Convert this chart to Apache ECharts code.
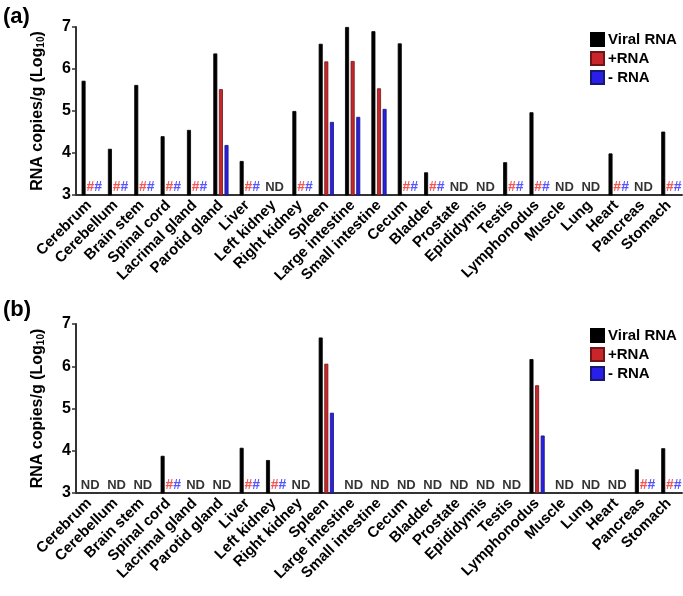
<!DOCTYPE html>
<html>
<head>
<meta charset="utf-8">
<script src="https://cdn.jsdelivr.net/npm/echarts@6/dist/echarts.min.js"></script>
<style>
  html, body { margin: 0; padding: 0; background: #fff; }
  #chart { width: 683px; height: 596px; }
</style>
</head>
<body>
<div id="chart"></div>
<script>
// tissues on the x axis (same for both panels)
const tissues = ["Cerebrum", "Cerebellum", "Brain stem", "Spinal cord", "Lacrimal gland", "Parotid gland",
  "Liver", "Left kidney", "Right kidney", "Spleen", "Large intestine", "Small intestine", "Cecum",
  "Bladder", "Prostate", "Epididymis", "Testis", "Lymphonodus", "Muscle", "Lung", "Heart", "Pancreas", "Stomach"];
const seriesNames = ["Viral RNA", "+RNA", "- RNA"];
const yTicks = [3, 4, 5, 6, 7];

// panel (a)
const viralA = [5.72, 4.1, 5.62, 4.4, 4.55, 6.37, 3.81, null, 5.0, 6.6, 7.0, 6.9, 6.61,
  3.54, null, null, 3.78, 4.97, null, null, 3.99, null, 4.51];
const plusA = [null, null, null, null, null, 5.52, null, null, null, 6.18, 6.19, 5.54, null,
  null, null, null, null, null, null, null, null, null, null];
const minusA = [null, null, null, null, null, 4.19, null, null, null, 4.74, 4.86, 5.05, null,
  null, null, null, null, null, null, null, null, null, null];
const marksA = ["##", "##", "##", "##", "##", "", "##", "ND", "##", "", "", "", "##",
  "##", "ND", "ND", "##", "##", "ND", "ND", "##", "ND", "##"];

// panel (b)
const viralB = [null, null, null, 3.88, null, null, 4.07, 3.78, null, 6.68, null, null, null,
  null, null, null, null, 6.17, null, null, null, 3.56, 4.06];
const plusB = [null, null, null, null, null, null, null, null, null, 6.06, null, null, null,
  null, null, null, null, 5.55, null, null, null, null, null];
const minusB = [null, null, null, null, null, null, null, null, null, 4.9, null, null, null,
  null, null, null, null, 4.36, null, null, null, null, null];
const marksB = ["ND", "ND", "ND", "##", "ND", "ND", "##", "##", "ND", "", "ND", "ND", "ND",
  "ND", "ND", "ND", "ND", "", "ND", "ND", "ND", "##", "##"];

const font = "'Liberation Sans', Arial, sans-serif";
const colors = ["#000000", "#c8262b", "#2a1fe8"];
const borders = ["#000000", "#6e1616", "#18186e"];

function barSeries(idx, name, data, k) {
  return {
    name: name,
    type: "bar",
    xAxisIndex: idx,
    yAxisIndex: idx,
    data: data,
    barWidth: 4,
    barGap: "40%",
    itemStyle: { color: colors[k], borderColor: borders[k], borderWidth: 0.8 }
  };
}

// "##" / "ND" notes sitting on the x axis
function markSeries(idx, marks) {
  return {
    type: "scatter",
    xAxisIndex: idx,
    yAxisIndex: idx,
    symbolSize: 0,
    silent: true,
    z: 5,
    data: marks.map(m => ({
      value: m ? 3 : null,
      label: {
        show: !!m,
        position: "top",
        distance: 1,
        offset: m === "ND" ? [1, 0] : [5, 0],
        formatter: m === "ND" ? "{nd|ND}" : "{r|#}{b|#}",
        rich: {
          nd: { color: "#000", fontWeight: "bold", fontSize: 13, fontFamily: font },
          r: { color: "#f02a2a", fontWeight: "bold", fontSize: 14, fontFamily: font },
          b: { color: "#2a2aff", fontWeight: "bold", fontSize: 14, fontFamily: font }
        }
      }
    }))
  };
}

function xAxis(idx) {
  return {
    type: "category",
    gridIndex: idx,
    data: tissues,
    axisLine: { lineStyle: { color: "#333", width: 2 } },
    axisTick: { alignWithLabel: true, length: 4, lineStyle: { color: "#333", width: 1.5 } },
    axisLabel: {
      interval: 0, rotate: 45, margin: 8,
      color: "#000", fontWeight: "bold", fontSize: 15, fontFamily: font
    }
  };
}

function yAxis(idx) {
  return {
    type: "value",
    gridIndex: idx,
    min: yTicks[0],
    max: yTicks[yTicks.length - 1],
    interval: 1,
    name: "RNA copies/g (Log{sub|10})",
    nameLocation: "middle",
    nameRotate: 90,
    nameGap: 30,
    nameTextStyle: {
      color: "#000", fontWeight: "bold", fontSize: 16, fontFamily: font,
      rich: { sub: { fontSize: 10, fontWeight: "bold", fontFamily: font, verticalAlign: "bottom", color: "#000" } }
    },
    splitLine: { show: false },
    axisLine: { show: true, lineStyle: { color: "#333", width: 2 } },
    axisTick: { show: true, length: 4, lineStyle: { color: "#333", width: 1.5 } },
    axisLabel: { color: "#000", fontWeight: "bold", fontSize: 16, fontFamily: font, margin: 5 }
  };
}

function legend(top) {
  return {
    orient: "vertical",
    left: 585,
    top: top,
    itemWidth: 13,
    itemHeight: 13,
    itemGap: 4,
    icon: "rect",
    data: seriesNames,
    textStyle: { color: "#000", fontWeight: "bold", fontSize: 15, fontFamily: font, padding: [0, 0, 0, -1] }
  };
}

const chart = echarts.init(document.getElementById("chart"));
chart.setOption({
  animation: false,
  backgroundColor: "#fff",
  grid: [
    { left: 76, right: 1, top: 27, height: 168 },
    { left: 76, right: 1, top: 324, height: 169 }
  ],
  legend: [legend(27), legend(323)],
  graphic: [
    { type: "text", left: 3, top: 6, style: { text: "(a)", fontSize: 22, fontWeight: "bold", fontFamily: font, fill: "#000" } },
    { type: "text", left: 3, top: 299, style: { text: "(b)", fontSize: 22, fontWeight: "bold", fontFamily: font, fill: "#000" } }
  ],
  xAxis: [xAxis(0), xAxis(1)],
  yAxis: [yAxis(0), yAxis(1)],
  series: [
    barSeries(0, seriesNames[0], viralA, 0),
    barSeries(0, seriesNames[1], plusA, 1),
    barSeries(0, seriesNames[2], minusA, 2),
    markSeries(0, marksA),
    barSeries(1, seriesNames[0], viralB, 0),
    barSeries(1, seriesNames[1], plusB, 1),
    barSeries(1, seriesNames[2], minusB, 2),
    markSeries(1, marksB)
  ]
});
</script>
</body>
</html>
